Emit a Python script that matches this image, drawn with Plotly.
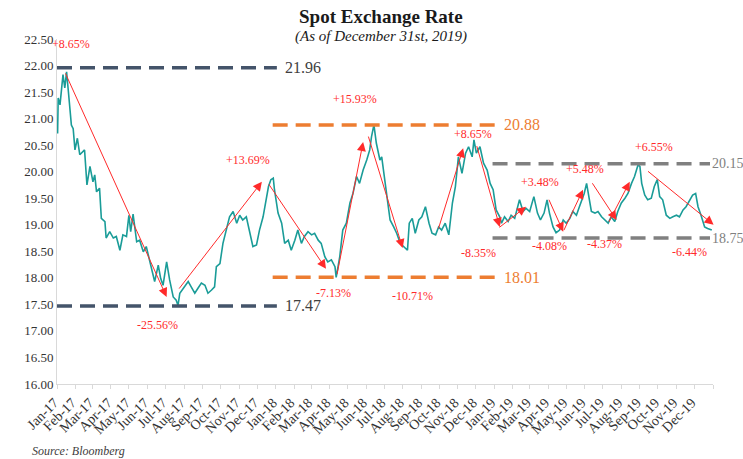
import plotly.graph_objects as go

# ---------------- data ----------------
dates = [
    "2017-01-02","2017-01-03","2017-01-06","2017-01-09","2017-01-11","2017-01-14","2017-01-17","2017-01-20",
    "2017-01-23","2017-01-25","2017-01-28","2017-01-31","2017-02-04","2017-02-08","2017-02-16","2017-02-20",
    "2017-02-25","2017-03-02","2017-03-05","2017-03-08","2017-03-13","2017-03-16","2017-03-22","2017-03-24",
    "2017-03-30","2017-04-05","2017-04-10","2017-04-16","2017-04-21","2017-04-27","2017-05-01","2017-05-04",
    "2017-05-08","2017-05-14","2017-05-19","2017-05-25","2017-05-30","2017-06-05","2017-06-13","2017-06-19",
    "2017-06-23","2017-06-27","2017-07-03","2017-07-08","2017-07-14","2017-07-19","2017-07-22","2017-07-25",
    "2017-08-02","2017-08-08","2017-08-13","2017-08-19","2017-08-24","2017-08-30","2017-09-05","2017-09-10",
    "2017-09-16","2017-09-21","2017-09-24","2017-09-30","2017-10-05","2017-10-11","2017-10-16","2017-10-22",
    "2017-10-28","2017-11-02","2017-11-07","2017-11-13","2017-11-19","2017-11-24","2017-11-30","2017-12-05",
    "2017-12-11","2017-12-17","2017-12-20","2017-12-24","2017-12-28","2017-12-30",
    "2018-01-05","2018-01-11","2018-01-16","2018-01-22","2018-01-27","2018-02-02","2018-02-07","2018-02-13",
    "2018-02-18","2018-02-24","2018-03-02","2018-03-07","2018-03-13","2018-03-18","2018-03-24","2018-03-29",
    "2018-04-04","2018-04-10","2018-04-12","2018-04-18","2018-04-23","2018-04-29","2018-05-05","2018-05-10",
    "2018-05-16","2018-05-21","2018-05-27","2018-06-02","2018-06-07","2018-06-10","2018-06-14","2018-06-18",
    "2018-06-24","2018-06-27","2018-07-02","2018-07-08","2018-07-11","2018-07-17","2018-07-22","2018-07-28",
    "2018-08-02","2018-08-09","2018-08-12","2018-08-17","2018-08-22","2018-08-28","2018-09-02","2018-09-08",
    "2018-09-14","2018-09-19","2018-09-25","2018-09-30","2018-10-05","2018-10-11","2018-10-17","2018-10-23",
    "2018-10-28","2018-11-02","2018-11-08","2018-11-14","2018-11-19","2018-11-25","2018-11-28","2018-12-02",
    "2018-12-08","2018-12-14","2018-12-20","2018-12-25","2018-12-30",
    "2019-01-04","2019-01-10","2019-01-13","2019-01-18","2019-01-24","2019-01-29","2019-02-04","2019-02-12",
    "2019-02-18","2019-02-23","2019-03-01","2019-03-08","2019-03-14","2019-03-19","2019-03-25","2019-03-30",
    "2019-04-03","2019-04-09","2019-04-14","2019-04-20","2019-04-26","2019-05-01","2019-05-07","2019-05-12",
    "2019-05-18","2019-05-23","2019-05-31","2019-06-04","2019-06-08","2019-06-12","2019-06-18","2019-06-23",
    "2019-06-29","2019-07-04","2019-07-10","2019-07-15","2019-07-21","2019-07-26","2019-08-01","2019-08-07",
    "2019-08-12","2019-08-18","2019-08-23","2019-08-29","2019-09-01","2019-09-04","2019-09-09","2019-09-14",
    "2019-09-20","2019-09-25","2019-09-30","2019-10-04","2019-10-09","2019-10-15","2019-10-21","2019-10-26",
    "2019-11-01","2019-11-06","2019-11-12","2019-11-17","2019-11-23","2019-11-28","2019-12-03","2019-12-07",
    "2019-12-12","2019-12-18","2019-12-23","2019-12-30",
]
rates = [
    20.72,21.39,21.26,21.64,21.83,21.58,21.88,21.51,
    21.07,20.88,20.81,20.41,20.63,20.32,20.41,19.75,
    20.10,19.81,19.94,19.62,19.69,19.12,19.06,18.75,
    18.87,18.75,18.78,18.52,18.81,18.78,19.18,18.87,
    19.20,18.68,18.71,18.49,18.59,18.30,17.93,18.24,
    17.99,17.86,18.30,17.96,17.64,17.58,17.48,17.71,
    17.83,17.93,17.83,17.71,17.80,17.90,17.86,17.71,
    17.77,17.83,18.21,18.27,18.65,18.90,19.15,19.25,
    19.03,19.18,19.09,19.15,18.84,18.59,18.62,18.90,
    19.15,19.53,19.72,19.85,19.88,19.66,
    19.22,19.03,18.65,18.71,18.52,18.71,18.90,18.65,
    18.78,18.87,18.81,18.84,18.71,18.65,18.40,18.30,
    18.34,18.21,18.01,18.40,18.90,19.03,19.41,19.59,
    19.91,19.78,20.03,20.22,20.41,20.66,20.88,20.54,
    20.22,20.28,19.85,19.25,19.09,18.96,18.84,18.65,
    18.59,18.52,19.03,19.12,18.84,19.09,19.15,19.34,
    19.03,18.84,18.81,18.96,18.90,19.03,18.81,19.41,
    19.72,20.28,19.97,20.35,20.47,20.28,20.60,20.35,
    20.47,20.16,20.03,19.78,19.66,
    19.28,19.15,19.03,19.15,19.06,19.18,19.12,19.47,
    19.25,19.31,19.25,19.53,19.22,19.09,19.22,19.47,
    19.22,18.96,18.85,18.90,19.09,19.03,19.12,19.25,
    19.18,19.34,19.59,19.78,19.53,19.25,19.22,19.25,
    19.15,19.09,19.03,19.15,19.06,19.25,19.41,19.50,
    19.59,19.78,19.91,20.13,20.10,19.78,19.56,19.47,
    19.50,19.72,19.85,19.53,19.47,19.18,19.12,19.15,
    19.18,19.15,19.28,19.34,19.47,19.56,19.59,19.34,
    19.18,18.96,18.93,18.90,
]

# Horizontal reference levels
levels = [21.96, 17.47, 20.88, 18.01, 20.15, 18.75]
level_start = ["2017-01-01", "2017-01-01", "2017-12-27", "2017-12-27", "2018-12-29", "2018-12-29"]
level_end = ["2018-01-03", "2018-01-03", "2019-01-02", "2019-01-02", "2019-12-27", "2019-12-27"]

# Styles for the level lines and their labels
level_colors = ["#44546A", "#44546A", "#ED7D31", "#ED7D31", "#808080", "#808080"]
level_text_colors = ["#404040", "#404040", "#ED7D31", "#ED7D31", "#808080", "#808080"]
level_label_shift = [7, 7, 8, 8, 1, 1]
level_label_size = [16, 16, 16, 16, 14, 14]

# Trend arrows: start date/value -> end date/value
move_start_dates = ["2017-01-14", "2017-07-22", "2017-12-19", "2018-04-13", "2018-06-04", "2018-09-29",
                    "2018-12-02", "2019-01-07", "2019-04-01", "2019-04-26", "2019-06-12", "2019-07-10",
                    "2019-09-12"]
move_start_vals = [21.88, 17.77, 19.79, 18.04, 20.69, 18.90, 20.51, 18.93, 19.50, 18.87, 19.81, 19.03, 20.03]
move_end_dates = ["2017-07-03", "2017-12-09", "2018-03-26", "2018-05-27", "2018-08-01", "2018-11-10",
                  "2019-01-10", "2019-02-23", "2019-04-26", "2019-05-29", "2019-07-24", "2019-08-15",
                  "2020-01-02"]
move_end_vals = [17.64, 19.81, 18.17, 20.56, 18.56, 20.44, 18.96, 19.34, 18.87, 19.66, 19.09, 19.81, 19.00]

# Percentage labels
pct_labels = ["+8.65%", "-25.56%", "+13.69%", "-7.13%", "+15.93%", "-10.71%", "+8.65%", "-8.35%",
              "+3.48%", "-4.08%", "+5.48%", "-4.37%", "+6.55%", "-6.44%"]
pct_dates = ["2017-01-24", "2017-06-18", "2017-11-15", "2018-04-08", "2018-05-13", "2018-08-18",
             "2018-11-26", "2018-12-06", "2019-03-19", "2019-04-03", "2019-06-01", "2019-07-04",
             "2019-09-24", "2019-11-23"]
pct_vals = [22.41, 17.11, 20.22, 17.71, 21.37, 17.66, 20.71, 18.47, 19.81, 18.60, 20.05, 18.64, 20.47, 18.49]

SERIF = "Liberation Serif"
TEAL = "#1A9C98"
RED = "#FF2A2A"

fig = go.Figure()

fig.add_trace(go.Scatter(x=dates, y=rates, mode="lines",
                         line=dict(color=TEAL, width=1.6), showlegend=False, hoverinfo="x+y"))

for v, s, e, c in zip(levels, level_start, level_end, level_colors):
    fig.add_shape(type="line", xref="x", yref="y", x0=s, x1=e, y0=v, y1=v,
                  line=dict(color=c, width=3.5, dash="15px,8px"), layer="above")

annotations = []
for v, e, tc, sh, sz in zip(levels, level_end, level_text_colors, level_label_shift, level_label_size):
    annotations.append(dict(x=e, y=v, xref="x", yref="y", text=f"{v:.2f}", showarrow=False,
                            xanchor="left", yanchor="middle", xshift=sh, borderpad=0,
                            font=dict(family=SERIF, size=sz, color=tc)))

for sd, sv, ed, ev in zip(move_start_dates, move_start_vals, move_end_dates, move_end_vals):
    annotations.append(dict(x=ed, y=ev, ax=sd, ay=sv, xref="x", yref="y", axref="x", ayref="y",
                            text="", showarrow=True, arrowhead=2, arrowsize=1.8, arrowwidth=1,
                            arrowcolor=RED, standoff=0, startstandoff=0))

for t, d, v in zip(pct_labels, pct_dates, pct_vals):
    annotations.append(dict(x=d, y=v, xref="x", yref="y", text=t, showarrow=False,
                            xanchor="center", yanchor="middle",
                            font=dict(family=SERIF, size=12, color=RED)))

annotations.append(dict(x=0.494, y=1.064, xref="paper", yref="paper", text="<b>Spot Exchange Rate</b>",
                        showarrow=False, xanchor="center", yanchor="middle",
                        font=dict(family=SERIF, size=19, color="#1a1a1a")))
annotations.append(dict(x=0.494, y=1.006, xref="paper", yref="paper", text="<i>(As of December 31st, 2019)</i>",
                        showarrow=False, xanchor="center", yanchor="middle",
                        font=dict(family=SERIF, size=15, color="#1a1a1a")))
annotations.append(dict(x=-0.041, y=-0.194, xref="paper", yref="paper", text="<i>Source: Bloomberg</i>",
                        showarrow=False, xanchor="left", yanchor="middle",
                        font=dict(family=SERIF, size=12, color="#404040")))

fig.update_layout(
    width=743, height=459,
    margin=dict(l=57, r=30, t=39, b=75, autoexpand=False),
    paper_bgcolor="white", plot_bgcolor="white",
    annotations=annotations,
    showlegend=False,
    xaxis=dict(type="date", range=["2017-01-01", "2020-01-01"], dtick="M1", tick0="2017-01-01",
               tickformat="%b-%y", ticklabelmode="period", tickangle=-45, automargin=False,
               ticklabelshift=-12,
               showgrid=False, zeroline=False, showline=True, linecolor="#D9D9D9", linewidth=1,
               ticks="outside", ticklen=4, tickcolor="#D9D9D9",
               tickfont=dict(family=SERIF, size=14, color="#333333")),
    yaxis=dict(range=[16, 22.5], dtick=0.5, tick0=16, tickformat=".2f", automargin=False,
               showgrid=False, zeroline=False, showline=True, linecolor="#D9D9D9", linewidth=1,
               ticks="", tickfont=dict(family=SERIF, size=13, color="#333333")),
)

# Remove the browser's default 8px body margin so the figure fills the window exactly.
fig.write_html("out.html", config={"displayModeBar": False},
               post_script="document.body.style.margin='0';document.body.style.overflow='hidden';")
